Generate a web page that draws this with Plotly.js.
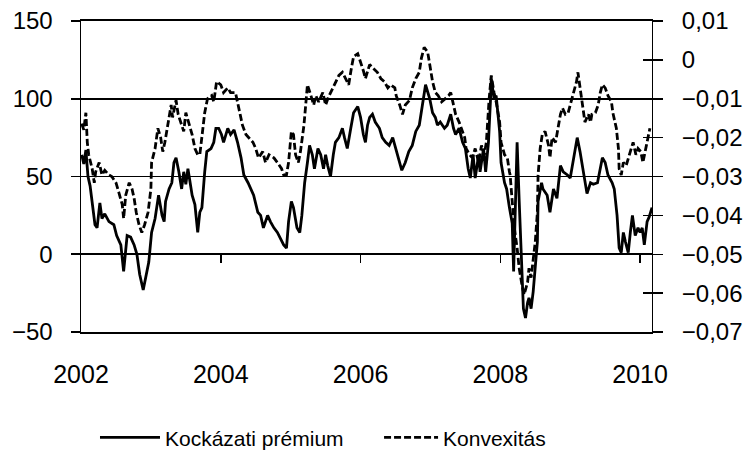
<!DOCTYPE html>
<html>
<head>
<meta charset="utf-8">
<script src="https://cdn.plot.ly/plotly-3.0.1.min.js"></script>
<style>
  html, body { margin: 0; padding: 0; background: #fff; }
  #chart { width: 751px; height: 450px; }
</style>
</head>
<body>
<div id="chart"></div>
<script>
// ---- Data ----
// Kockázati prémium (left axis), decimal years
const premDates = [
  2002.01,2002.04,2002.07,2002.10,2002.13,2002.16,2002.20,2002.23,2002.27,2002.30,
  2002.34,2002.40,2002.47,2002.51,2002.57,2002.61,2002.66,2002.71,2002.76,2002.80,
  2002.84,2002.89,2002.93,2002.97,2003.01,2003.06,2003.11,2003.16,2003.19,2003.21,
  2003.26,2003.30,2003.33,2003.36,2003.40,2003.44,2003.47,2003.50,2003.53,2003.57,
  2003.59,2003.63,2003.67,2003.70,2003.73,2003.77,2003.80,2003.86,2003.90,2003.93,
  2003.97,2004.01,2004.04,2004.10,2004.14,2004.19,2004.24,2004.29,2004.33,2004.39,
  2004.43,2004.47,2004.53,2004.57,2004.61,2004.67,2004.71,2004.76,2004.81,2004.86,
  2004.90,2004.94,2004.97,2005.01,2005.04,2005.09,2005.13,2005.16,2005.20,2005.24,
  2005.27,2005.31,2005.34,2005.39,2005.43,2005.47,2005.50,2005.53,2005.57,2005.61,
  2005.64,2005.69,2005.74,2005.77,2005.81,2005.86,2005.90,2005.96,2006.00,2006.04,
  2006.07,2006.10,2006.13,2006.17,2006.21,2006.27,2006.31,2006.36,2006.41,2006.46,
  2006.50,2006.56,2006.59,2006.64,2006.69,2006.74,2006.79,2006.84,2006.89,2006.93,
  2006.99,2007.03,2007.07,2007.10,2007.14,2007.20,2007.24,2007.29,2007.33,2007.36,
  2007.41,2007.46,2007.50,2007.54,2007.57,2007.61,2007.64,2007.69,2007.71,2007.76,
  2007.79,2007.83,2007.86,2007.87,2007.91,2007.94,2007.99,2008.01,2008.06,2008.09,
  2008.13,2008.17,2008.19,2008.21,2008.24,2008.27,2008.31,2008.33,2008.36,2008.39,
  2008.41,2008.44,2008.47,2008.50,2008.53,2008.54,2008.59,2008.61,2008.67,2008.71,
  2008.76,2008.81,2008.86,2008.90,2008.96,2009.00,2009.04,2009.10,2009.14,2009.19,
  2009.24,2009.29,2009.33,2009.39,2009.43,2009.46,2009.50,2009.54,2009.60,2009.63,
  2009.67,2009.70,2009.73,2009.76,2009.79,2009.83,2009.86,2009.89,2009.93,2009.97,
  2010.00,2010.03,2010.06,2010.10,2010.13,2010.17
];
const premValues = [
  64,58,67,50,44,32,19,17,33,23,
  26,21,19,12,6,-11,12,11,6,0,
  -13,-23,-13,-5,14,23,38,25,21,34,
  42,46,59,62,53,42,53,45,55,42,
  38,32,14,27,30,53,66,68,72,81,
  81,77,72,81,77,80,72,62,51,46,
  42,38,27,25,17,25,21,17,14,10,
  6,4,21,34,30,17,14,25,46,59,
  70,64,55,68,64,55,64,57,50,64,
  72,75,81,75,68,81,91,95,88,77,
  72,83,88,90,85,81,75,72,70,75,
  68,59,54,59,66,70,79,83,98,109,
  100,91,88,83,85,81,83,90,81,77,
  81,72,68,55,49,64,49,64,53,68,
  53,72,100,113,100,102,79,59,46,42,
  30,20,-11,17,72,34,-18,-35,-41,-31,
  -28,-35,-24,-9,8,34,46,42,38,27,
  42,36,57,53,51,49,59,75,66,51,
  39,46,45,46,55,62,59,51,46,42,
  25,4,1,14,8,1,14,25,12,17,
  14,17,6,21,24,30
];

// Konvexitás (right axis), decimal years
const konvDates = [
  2002.01,2002.04,2002.07,2002.09,2002.11,2002.16,2002.19,2002.21,2002.26,2002.30,
  2002.34,2002.40,2002.44,2002.50,2002.54,2002.59,2002.61,2002.64,2002.69,2002.73,
  2002.76,2002.79,2002.83,2002.87,2002.91,2002.96,2003.00,2003.01,2003.06,2003.10,
  2003.14,2003.17,2003.20,2003.23,2003.29,2003.31,2003.36,2003.39,2003.44,2003.47,
  2003.50,2003.54,2003.59,2003.63,2003.67,2003.70,2003.73,2003.77,2003.81,2003.87,
  2003.90,2003.94,2004.00,2004.04,2004.10,2004.14,2004.21,2004.26,2004.31,2004.36,
  2004.40,2004.46,2004.50,2004.54,2004.60,2004.64,2004.69,2004.76,2004.81,2004.87,
  2004.90,2004.94,2004.97,2005.01,2005.04,2005.07,2005.11,2005.14,2005.19,2005.21,
  2005.24,2005.29,2005.33,2005.36,2005.40,2005.46,2005.50,2005.54,2005.60,2005.64,
  2005.69,2005.74,2005.79,2005.83,2005.87,2005.90,2005.96,2006.00,2006.04,2006.07,
  2006.13,2006.17,2006.24,2006.29,2006.34,2006.39,2006.43,2006.49,2006.51,2006.56,
  2006.60,2006.64,2006.70,2006.74,2006.79,2006.84,2006.87,2006.91,2006.96,2006.99,
  2007.03,2007.07,2007.11,2007.16,2007.21,2007.26,2007.29,2007.33,2007.36,2007.41,
  2007.44,2007.49,2007.51,2007.56,2007.60,2007.64,2007.69,2007.73,2007.77,2007.80,
  2007.84,2007.87,2007.91,2007.94,2007.99,2008.01,2008.06,2008.10,2008.13,2008.14,
  2008.17,2008.20,2008.24,2008.27,2008.31,2008.34,2008.39,2008.41,2008.44,2008.47,
  2008.50,2008.53,2008.54,2008.57,2008.60,2008.64,2008.69,2008.71,2008.74,2008.79,
  2008.83,2008.86,2008.89,2008.93,2008.97,2009.01,2009.04,2009.09,2009.11,2009.14,
  2009.17,2009.21,2009.26,2009.29,2009.31,2009.36,2009.40,2009.43,2009.46,2009.50,
  2009.54,2009.59,2009.61,2009.66,2009.69,2009.70,2009.73,2009.76,2009.80,2009.83,
  2009.87,2009.90,2009.94,2009.97,2010.01,2010.04,2010.09,2010.11,2010.14
];
const konvValues = [
  -0.0164,-0.0180,-0.0136,-0.0212,-0.0244,-0.0280,-0.0316,-0.0288,-0.0264,-0.0296,
  -0.0284,-0.0296,-0.0300,-0.0316,-0.0340,-0.0372,-0.0408,-0.0348,-0.0316,-0.0332,
  -0.0356,-0.0392,-0.0424,-0.0444,-0.0424,-0.0392,-0.0332,-0.0264,-0.0228,-0.0176,
  -0.0200,-0.0236,-0.0212,-0.0176,-0.0116,-0.0148,-0.0104,-0.0140,-0.0168,-0.0184,
  -0.0136,-0.0160,-0.0192,-0.0228,-0.0244,-0.0244,-0.0200,-0.0136,-0.0100,-0.0092,
  -0.0108,-0.0056,-0.0064,-0.0084,-0.0072,-0.0084,-0.0084,-0.0124,-0.0168,-0.0192,
  -0.0200,-0.0212,-0.0228,-0.0252,-0.0236,-0.0264,-0.0244,-0.0252,-0.0264,-0.0280,
  -0.0296,-0.0296,-0.0264,-0.0184,-0.0192,-0.0244,-0.0264,-0.0236,-0.0168,-0.0124,
  -0.0064,-0.0092,-0.0116,-0.0092,-0.0108,-0.0084,-0.0116,-0.0096,-0.0072,-0.0056,
  -0.0040,-0.0032,-0.0048,-0.0064,-0.0020,0.0008,0.0016,-0.0004,-0.0028,-0.0048,
  -0.0012,-0.0020,-0.0032,-0.0048,-0.0056,-0.0072,-0.0064,-0.0072,-0.0092,-0.0116,
  -0.0140,-0.0116,-0.0104,-0.0072,-0.0048,-0.0032,0.0004,0.0032,0.0020,-0.0012,
  -0.0056,-0.0084,-0.0092,-0.0108,-0.0100,-0.0092,-0.0084,-0.0116,-0.0140,-0.0160,
  -0.0176,-0.0200,-0.0228,-0.0244,-0.0252,-0.0228,-0.0264,-0.0220,-0.0244,-0.0212,
  -0.0100,-0.0040,-0.0084,-0.0108,-0.0160,-0.0212,-0.0244,-0.0252,-0.0288,-0.0296,
  -0.0364,-0.0432,-0.0484,-0.0536,-0.0580,-0.0604,-0.0572,-0.0536,-0.0560,-0.0520,
  -0.0468,-0.0392,-0.0296,-0.0228,-0.0192,-0.0184,-0.0220,-0.0252,-0.0200,-0.0212,
  -0.0176,-0.0140,-0.0124,-0.0140,-0.0136,-0.0108,-0.0092,-0.0056,-0.0032,-0.0072,
  -0.0108,-0.0160,-0.0140,-0.0160,-0.0140,-0.0136,-0.0116,-0.0084,-0.0064,-0.0072,
  -0.0092,-0.0108,-0.0136,-0.0176,-0.0228,-0.0280,-0.0296,-0.0264,-0.0272,-0.0252,
  -0.0228,-0.0212,-0.0244,-0.0228,-0.0236,-0.0264,-0.0220,-0.0200,-0.0176
];

// Axis ticks and labels
const xTickVals = [2002, 2004, 2006, 2008, 2010];
const xTickText = ['2002', '2004', '2006', '2008', '2010'];
const xInnerTicks = [2004, 2006, 2008, 2010];
const yLeftTicks = [-50, 0, 50, 100, 150];
const yLeftText = ['\u221250', '0', '50', '100', '150'];
const yRightTicks = [-0.07, -0.06, -0.05, -0.04, -0.03, -0.02, -0.01, 0, 0.01];
const yRightText = ['\u22120,07', '\u22120,06', '\u22120,05', '\u22120,04', '\u22120,03', '\u22120,02', '\u22120,01', '0', '0,01'];
const seriesNames = ['Kockázati prémium', 'Konvexitás'];

// ---- Chart ----
const FONT = 'Arial, "Liberation Sans", sans-serif';
const TICK_SIZE = 24;
const XTICK_SIZE = 25;
const LEGEND_FONT = { family: FONT, size: 21, color: '#000' };
const traces = [
  {
    x: premDates, y: premValues, name: seriesNames[0],
    type: 'scatter', mode: 'lines', xaxis: 'x', yaxis: 'y', legend: 'legend',
    line: { color: '#000', width: 2.8 }, hoverinfo: 'skip'
  },
  {
    x: konvDates, y: konvValues, name: seriesNames[1],
    type: 'scatter', mode: 'lines', xaxis: 'x', yaxis: 'y2', legend: 'legend2',
    line: { color: '#000', width: 2.8, dash: '7px,3px' }, hoverinfo: 'skip'
  },
  // empty helper traces so the helper tick axes are drawn
  { x: [], y: [], xaxis: 'x2', yaxis: 'y', type: 'scatter', mode: 'lines', showlegend: false, hoverinfo: 'skip' },
  { x: [], y: [], xaxis: 'x', yaxis: 'y3', type: 'scatter', mode: 'lines', showlegend: false, hoverinfo: 'skip' }
];

const layout = {
  width: 751, height: 450,
  margin: { l: 81, r: 99, t: 21, b: 118, pad: 0, autoexpand: false },
  paper_bgcolor: '#fff', plot_bgcolor: '#fff',
  font: { family: FONT, size: TICK_SIZE, color: '#000' },
  showlegend: true,
  legend: {
    orientation: 'h', x: 0.0245, xanchor: 'left', y: -0.34, yanchor: 'middle',
    font: LEGEND_FONT, itemwidth: 60,
    bgcolor: 'rgba(0,0,0,0)', borderwidth: 0
  },
  legend2: {
    orientation: 'h', x: 0.522, xanchor: 'left', y: -0.34, yanchor: 'middle',
    font: LEGEND_FONT, itemwidth: 54,
    bgcolor: 'rgba(0,0,0,0)', borderwidth: 0
  },
  xaxis: {
    range: [2002, 2010.17], tickmode: 'array', tickvals: xTickVals, ticktext: xTickText,
    showgrid: false, zeroline: false, showline: true, linecolor: '#000', linewidth: 2,
    mirror: true, ticks: '', ticklabelstandoff: 19,
    tickfont: { family: FONT, size: XTICK_SIZE, color: '#000' }, fixedrange: true
  },
  xaxis2: {
    overlaying: 'x', anchor: 'free', position: 0.25, range: [2002, 2010.17],
    tickmode: 'array', tickvals: xInnerTicks, ticks: 'outside', ticklen: 8, tickwidth: 1.5,
    tickcolor: '#000', showticklabels: false, showgrid: false, zeroline: false, showline: false,
    fixedrange: true
  },
  yaxis: {
    range: [-50, 150], tickmode: 'array', tickvals: yLeftTicks, ticktext: yLeftText,
    showgrid: true, gridcolor: '#000', gridwidth: 1.8, zeroline: false,
    showline: true, linecolor: '#000', linewidth: 1.5,
    ticks: 'outside', ticklen: 9, tickwidth: 1.8, tickcolor: '#000',
    ticklabelstandoff: 13,
    tickfont: { family: FONT, size: TICK_SIZE, color: '#000' }, fixedrange: true
  },
  yaxis2: {
    overlaying: 'y', side: 'right', anchor: 'x', range: [-0.07, 0.01],
    tickmode: 'array', tickvals: yRightTicks, ticktext: yRightText,
    showgrid: false, zeroline: false, showline: true, linecolor: '#000', linewidth: 1,
    ticks: 'outside', ticklen: 10, tickwidth: 1.5, tickcolor: '#000',
    ticklabelstandoff: 14,
    tickfont: { family: FONT, size: TICK_SIZE, color: '#000' }, fixedrange: true
  },
  yaxis3: {
    overlaying: 'y', side: 'right', anchor: 'x', range: [-0.07, 0.01],
    tickmode: 'array', tickvals: yRightTicks, ticks: 'inside', ticklen: 9, tickwidth: 1.5,
    tickcolor: '#000', showticklabels: false, showgrid: false, zeroline: false, showline: false,
    fixedrange: true
  }
};

Plotly.newPlot('chart', traces, layout, { staticPlot: true, displayModeBar: false });
</script>
</body>
</html>
